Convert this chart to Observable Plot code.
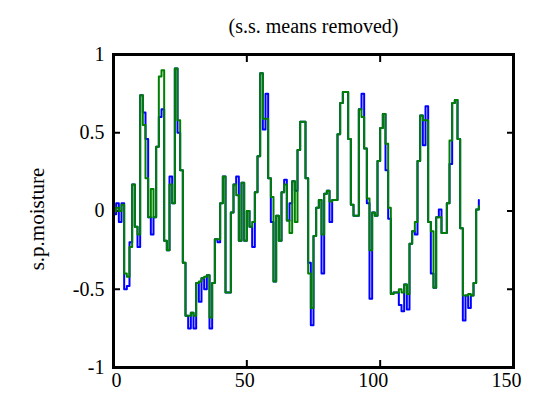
<!DOCTYPE html>
<html>
<head>
<meta charset="utf-8">
<script src="https://cdn.jsdelivr.net/npm/d3@7"></script>
<script src="https://cdn.jsdelivr.net/npm/@observablehq/plot@0.6"></script>
<style>
  html, body { margin: 0; padding: 0; background: #fff; }
  #chart { width: 544px; height: 406px; }
</style>
</head>
<body>
<div id="chart"></div>
<script>
const titleText = "(s.s. means removed)";
const yLabel = "s.p.moisture";
const xTicks = [0, 50, 100, 150];
const yTicks = [-1, -0.5, 0, 0.5, 1];

// green series (drawn on top)
const greenValues = [
  0.0, 0.02, 0.0, 0.04, -0.4, -0.42, -0.23, 0.17, -0.1, -0.15,
  0.74, 0.55, 0.21, -0.04, 0.14, -0.04, 0.41, 0.86, 0.9, -0.19,
  -0.25, 0.17, 0.05, 0.91, 0.58, 0.26, -0.33, -0.67, -0.67, -0.65,
  -0.67, -0.46, -0.45, -0.43, -0.42, -0.41, -0.68, -0.46, -0.18, -0.18,
  0.05, 0.22, -0.52, -0.52, -0.01, 0.17, 0.1, -0.19, 0.18, -0.19,
  0.0, -0.1, -0.07, 0.12, 0.35, 0.88, 0.59, 0.59, 0.21, 0.09,
  -0.45, -0.03, -0.19, 0.12, 0.17, -0.06, -0.14, 0.19, -0.07, 0.39,
  0.57, 0.57, 0.21, -0.4, -0.62, -0.16, 0.02, 0.07, -0.15, 0.11,
  0.13, 0.06, 0.07, 0.07, 0.49, 0.69, 0.76, 0.76, 0.46, 0.04,
  -0.03, -0.03, 0.65, 0.6, 0.4, 0.08, -0.25, -0.01, -0.03, 0.32,
  0.53, 0.62, 0.43, 0.02, -0.53, -0.52, -0.52, -0.5, -0.52, -0.47,
  -0.53, -0.21, -0.13, -0.07, 0.32, 0.61, 0.58, 0.58, -0.07, -0.13,
  -0.49, -0.04, -0.04, -0.14, -0.14, 0.05, 0.45, 0.69, 0.71, 0.46,
  -0.11, -0.54, -0.54, -0.53, -0.54, -0.46, 0.01, 0.03
];

// blue series
const blueValues = [
  -0.02, 0.05, -0.07, 0.05, -0.5, -0.48, -0.2, 0.17, -0.1, -0.23,
  0.74, 0.63, 0.46, -0.04, -0.15, -0.04, 0.41, 0.6, 0.65, -0.19,
  -0.25, 0.22, 0.05, 0.91, 0.5, 0.26, -0.33, -0.67, -0.75, -0.65,
  -0.75, -0.46, -0.58, -0.43, -0.5, -0.41, -0.75, -0.46, -0.18, -0.2,
  0.05, 0.22, -0.52, -0.52, -0.01, 0.17, 0.22, -0.19, 0.18, -0.19,
  0.0, -0.1, -0.23, 0.12, 0.35, 0.88, 0.52, 0.75, 0.21, -0.07,
  -0.45, -0.03, -0.19, 0.12, 0.2, -0.06, 0.05, 0.19, 0.13, 0.39,
  0.57, 0.57, 0.21, -0.33, -0.73, -0.16, 0.02, 0.07, -0.4, 0.11,
  0.13, -0.07, 0.07, 0.07, 0.49, 0.69, 0.76, 0.76, 0.46, 0.04,
  -0.03, -0.03, 0.65, 0.75, 0.4, 0.05, -0.56, -0.01, -0.03, 0.32,
  0.53, 0.62, 0.26, -0.05, -0.53, -0.52, -0.52, -0.6, -0.64, -0.47,
  -0.63, -0.21, -0.13, -0.15, 0.32, 0.61, 0.42, 0.67, -0.07, -0.4,
  -0.49, -0.04, 0.01, -0.14, -0.14, 0.05, 0.3, 0.69, 0.71, 0.46,
  -0.11, -0.7, -0.54, -0.62, -0.54, -0.46, 0.01, 0.07
];

const green = greenValues.map((v, i) => ({x: i, y: v}));
const blue = blueValues.map((v, i) => ({x: i, y: v}));
const fmt = d => String(d);
const font = "Liberation Serif, Times New Roman, serif";

const chart = Plot.plot({
  width: 544,
  height: 406,
  marginLeft: 113,
  marginRight: 31,
  marginTop: 54,
  marginBottom: 39,
  style: {fontFamily: font, fontSize: "20px", background: "#fff", color: "#000"},
  x: {domain: [0, 150]},
  y: {domain: [-1, 1]},
  marks: [
    Plot.axisX(xTicks, {anchor: "bottom", tickSize: -7, tickFormat: () => "", label: null, strokeWidth: 2}),
    Plot.text(xTicks, {x: d => d, frameAnchor: "bottom", dy: 19, dx: 8, textAnchor: "end", text: fmt, fontSize: 20, fill: "#000"}),
    Plot.axisX(xTicks, {anchor: "top", tickSize: -7, tickFormat: () => "", label: null, strokeWidth: 2}),
    Plot.axisY(yTicks, {anchor: "left", tickSize: -7, tickPadding: 16, tickFormat: fmt, label: null, fontSize: 20, strokeWidth: 2}),
    Plot.axisY(yTicks, {anchor: "right", tickSize: -7, tickFormat: () => "", label: null, strokeWidth: 2}),
    Plot.line(blue, {x: "x", y: "y", curve: "step-after", stroke: "#0000ff", strokeWidth: 2}),
    Plot.line(green, {x: "x", y: "y", curve: "step-after", stroke: "#008000", strokeWidth: 2}),
    Plot.frame({stroke: "#000", strokeWidth: 3}),
    Plot.text([titleText], {frameAnchor: "top", dy: -36, fontSize: 20, fill: "#000"}),
    Plot.text([yLabel], {frameAnchor: "left", dx: -76, dy: 8, rotate: -90, textAnchor: "middle", fontSize: 21, fill: "#000"})
  ]
});
document.getElementById("chart").appendChild(chart);
</script>
</body>
</html>
